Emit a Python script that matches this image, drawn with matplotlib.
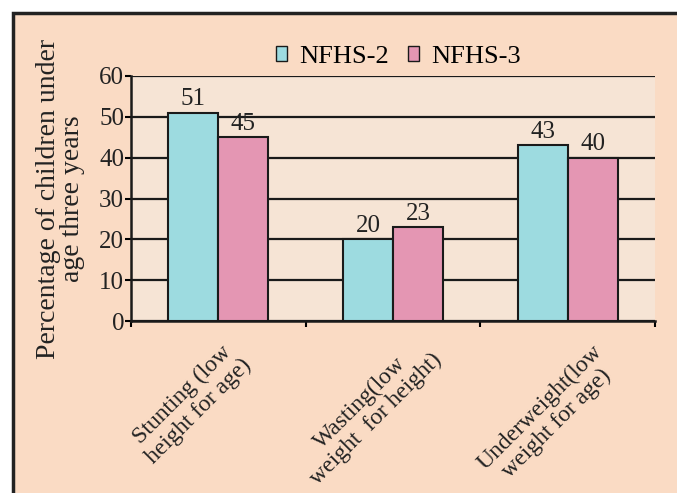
import matplotlib
matplotlib.use("Agg")
import matplotlib.pyplot as plt
import numpy as np
from matplotlib.patches import Rectangle
from matplotlib.transforms import offset_copy

categories = ["Stunting (low\nheight for age)", "Wasting(low\nweight  for height)", "Underweight(low\nweight for age)"]
nfhs2 = [51, 20, 43]
nfhs3 = [45, 23, 40]
series_names = ["NFHS-2", "NFHS-3"]
yticks = [0, 10, 20, 30, 40, 50, 60]

# label nudges (pixels), style only
label_dx = [6, 22, 24]
label_dy = [-17, -12, -20]

plt.rcParams['font.family'] = ['Liberation Serif', 'DejaVu Serif']

W, H = 677, 493
fig = plt.figure(figsize=(W/100, H/100), dpi=100, facecolor='white')
outer = '#FADBC4'
inner = '#F6E4D5'
ink = '#222222'
bg = Rectangle((13/W, -0.1), 1.2, 1 - 13/H + 0.1, transform=fig.transFigure,
               facecolor=outer, edgecolor=ink, linewidth=2.5, zorder=-10)
fig.patches.append(bg)

ax = fig.add_axes([131/W, 1 - 321/H, 524/W, 245/H])
ax.set_zorder(1)
ax.set_facecolor(inner)
x = np.arange(len(categories))
bw = 0.286
c2, c3 = '#9DDBE0', '#E496B3'
b1 = ax.bar(x - bw/2, nfhs2, bw, color=c2, edgecolor='#1a1a1a', linewidth=1.5, zorder=3, label=series_names[0])
b2 = ax.bar(x + bw/2, nfhs3, bw, color=c3, edgecolor='#1a1a1a', linewidth=1.5, zorder=3, label=series_names[1])
for bars, vals in ((b1, nfhs2), (b2, nfhs3)):
    for r, v in zip(bars, vals):
        ax.text(r.get_x() + r.get_width()/2, v + 0.6, str(v), ha='center', va='bottom', fontsize=18, color=ink, zorder=4)

ax.set_xlim(-0.5, 2.5)
ax.set_ylim(0, 60)
ax.set_yticks(yticks)
ax.set_yticklabels([str(t) for t in yticks], fontsize=18, color=ink)
ax.yaxis.grid(True, color='#1a1a1a', linewidth=1.6, zorder=1)
ax.set_axisbelow(True)
for s in ['top', 'right']:
    ax.spines[s].set_visible(False)
for s in ['left', 'bottom']:
    ax.spines[s].set_linewidth(1.8)
    ax.spines[s].set_color('#1a1a1a')
ax.set_xticks([-0.5, 0.5, 1.5, 2.5], minor=False)
ax.set_xticklabels([])
ax.tick_params(axis='x', length=4, width=1.5, direction='out')
ax.tick_params(axis='y', length=4, width=1.5, pad=1)

trans = ax.get_xaxis_transform()
for xi, lab, dx, dy in zip(x, categories, label_dx, label_dy):
    t = offset_copy(trans, fig=fig, x=dx, y=dy, units='dots')
    ax.text(xi, 0, lab, rotation=45, ha='right', va='top', rotation_mode='anchor',
            multialignment='center', fontsize=17, color=ink, transform=t, linespacing=1.1)

ax.set_ylabel("Percentage of children under\nage three years", fontsize=20, color=ink, linespacing=0.95, labelpad=10)

leg = ax.legend(loc='lower center', bbox_to_anchor=(0.51, 0.99), ncol=2, frameon=False, fontsize=19,
                handlelength=0.45, handleheight=0.45, handletextpad=0.45, columnspacing=0.7, borderaxespad=0.0)
for h in leg.legend_handles:
    h.set_edgecolor('#1a1a1a'); h.set_linewidth(1.0)

fig.savefig("out.png", dpi=100, facecolor='white')
